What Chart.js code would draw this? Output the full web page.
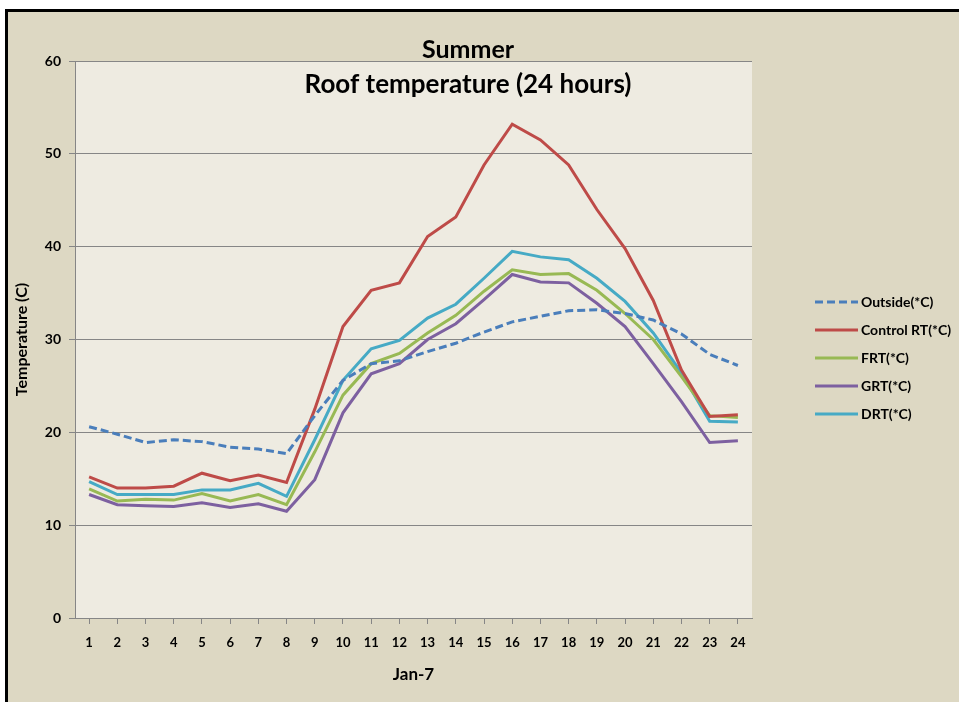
<!DOCTYPE html>
<html>
<head>
<meta charset="utf-8">
<title>Roof temperature (24 hours)</title>
<script src="https://cdn.jsdelivr.net/npm/chart.js@4.4.1/dist/chart.umd.min.js"></script>
<style>
  body { margin: 0; background: #fff; overflow: hidden; }
  #frame {
    position: absolute; left: 5px; top: 9px;
    width: 1000px; height: 800px;
    border: 3px solid #000;
    background: #DDD8C3;
  }
  #wrap { position: absolute; left: 0; top: 0; width: 959px; height: 702px; }
</style>
</head>
<body>
<div id="frame"></div>
<div id="wrap"><canvas id="chart" width="959" height="702"></canvas></div>
<script>
// hours of the day
const hours = ['1','2','3','4','5','6','7','8','9','10','11','12','13','14','15','16','17','18','19','20','21','22','23','24'];

// temperatures (°C)
const outside = [20.6, 19.8, 18.9, 19.2, 19.0, 18.4, 18.2, 17.7, 21.8, 25.6, 27.4, 27.7, 28.7, 29.6, 30.8, 31.9, 32.5, 33.1, 33.2, 32.8, 32.1, 30.6, 28.4, 27.2];
const controlRT = [15.2, 14.0, 14.0, 14.2, 15.6, 14.8, 15.4, 14.6, 22.5, 31.4, 35.3, 36.1, 41.1, 43.2, 48.8, 53.2, 51.5, 48.8, 44.0, 39.8, 34.2, 26.7, 21.7, 21.9];
const frt = [13.9, 12.6, 12.8, 12.7, 13.4, 12.6, 13.3, 12.2, 17.9, 24.0, 27.4, 28.5, 30.7, 32.6, 35.2, 37.5, 37.0, 37.1, 35.3, 32.8, 30.0, 26.0, 21.8, 21.6];
const grt = [13.3, 12.2, 12.1, 12.0, 12.4, 11.9, 12.3, 11.5, 14.9, 22.1, 26.3, 27.4, 30.0, 31.7, 34.3, 37.0, 36.2, 36.1, 33.9, 31.4, 27.4, 23.3, 18.9, 19.1];
const drt = [14.7, 13.3, 13.3, 13.3, 13.8, 13.8, 14.5, 13.1, 19.2, 25.6, 29.0, 29.9, 32.3, 33.8, 36.6, 39.5, 38.9, 38.6, 36.6, 34.1, 30.7, 26.4, 21.2, 21.1];

const seriesNames = ['Outside(*C)', 'Control RT(*C)', 'FRT(*C)', 'GRT(*C)', 'DRT(*C)'];
const titleLines = ['Summer', 'Roof temperature (24 hours)'];

const gridColor = '#868686';

function line(label, data, color, dash) {
    return {
        label: label,
        data: data,
        borderColor: color,
        backgroundColor: color,
        borderWidth: 3,
        borderDash: dash || [],
        pointRadius: 0,
        tension: 0,
        fill: false
    };
}

// plot background, title and legend
const decor = {
    id: 'decor',
    beforeDraw(chart) {
        const { ctx, chartArea: a } = chart;
        ctx.save();
        ctx.fillStyle = '#EEEBE1';
        ctx.fillRect(a.left, a.top, a.right - a.left, a.bottom - a.top);
        ctx.restore();
    },
    afterDraw(chart) {
        const ctx = chart.ctx;
        ctx.save();
        ctx.fillStyle = '#000';
        ctx.textAlign = 'center';
        ctx.textBaseline = 'middle';
        ctx.font = 'bold 25px Lato';
        ctx.fillText(titleLines[0], 468, 50);
        ctx.font = 'bold 26px Lato';
        ctx.fillText(titleLines[1], 468, 85);

        chart.data.datasets.forEach((ds, i) => {
            const y = 302 + i * 28;
            ctx.strokeStyle = ds.borderColor;
            ctx.lineWidth = 3;
            ctx.setLineDash(ds.borderDash);
            ctx.beginPath();
            ctx.moveTo(815, y);
            ctx.lineTo(858, y);
            ctx.stroke();
            ctx.setLineDash([]);
            ctx.textAlign = 'left';
            ctx.font = 'bold 14px Lato';
            ctx.fillText(ds.label, 861, y);
        });
        ctx.restore();
    }
};

new Chart(document.getElementById('chart'), {
    type: 'line',
    data: {
        labels: hours,
        datasets: [
            line(seriesNames[0], outside, '#4A7EBB', [8, 4]),
            line(seriesNames[1], controlRT, '#BE4B48'),
            line(seriesNames[2], frt, '#98B954'),
            line(seriesNames[3], grt, '#7D60A0'),
            line(seriesNames[4], drt, '#46AAC5')
        ]
    },
    options: {
        responsive: false,
        animation: false,
        layout: { padding: { top: 61, right: 207, bottom: 0, left: 0 } },
        plugins: {
            legend: { display: false },
            title: { display: false },
            tooltip: { enabled: false }
        },
        scales: {
            x: {
                offset: true,
                grid: { drawOnChartArea: false, drawTicks: true, tickLength: 6, color: gridColor },
                border: { display: true, color: gridColor },
                ticks: {
                    color: '#000',
                    font: { family: 'Lato', size: 13, weight: 'bold' },
                    padding: 11,
                    maxRotation: 0,
                    autoSkip: false
                },
                title: {
                    display: true,
                    text: 'Jan-7',
                    color: '#000',
                    font: { family: 'Lato', size: 17, weight: 'bold' },
                    padding: { top: 0, bottom: 17 }
                },
                afterFit: s => { s.height = 84; }
            },
            y: {
                min: 0,
                max: 60,
                grid: { color: gridColor, tickLength: 6 },
                border: { display: true, color: gridColor },
                ticks: {
                    stepSize: 10,
                    color: '#000',
                    font: { family: 'Lato', size: 14, weight: 'bold' },
                    padding: 8
                },
                title: {
                    display: true,
                    text: 'Temperature (C)',
                    color: '#000',
                    font: { family: 'Lato', size: 16, weight: 'bold' },
                    padding: { top: 12, bottom: 0 }
                },
                afterFit: s => { s.width = 75; }
            }
        }
    },
    plugins: [decor]
});
</script>
</body>
</html>
